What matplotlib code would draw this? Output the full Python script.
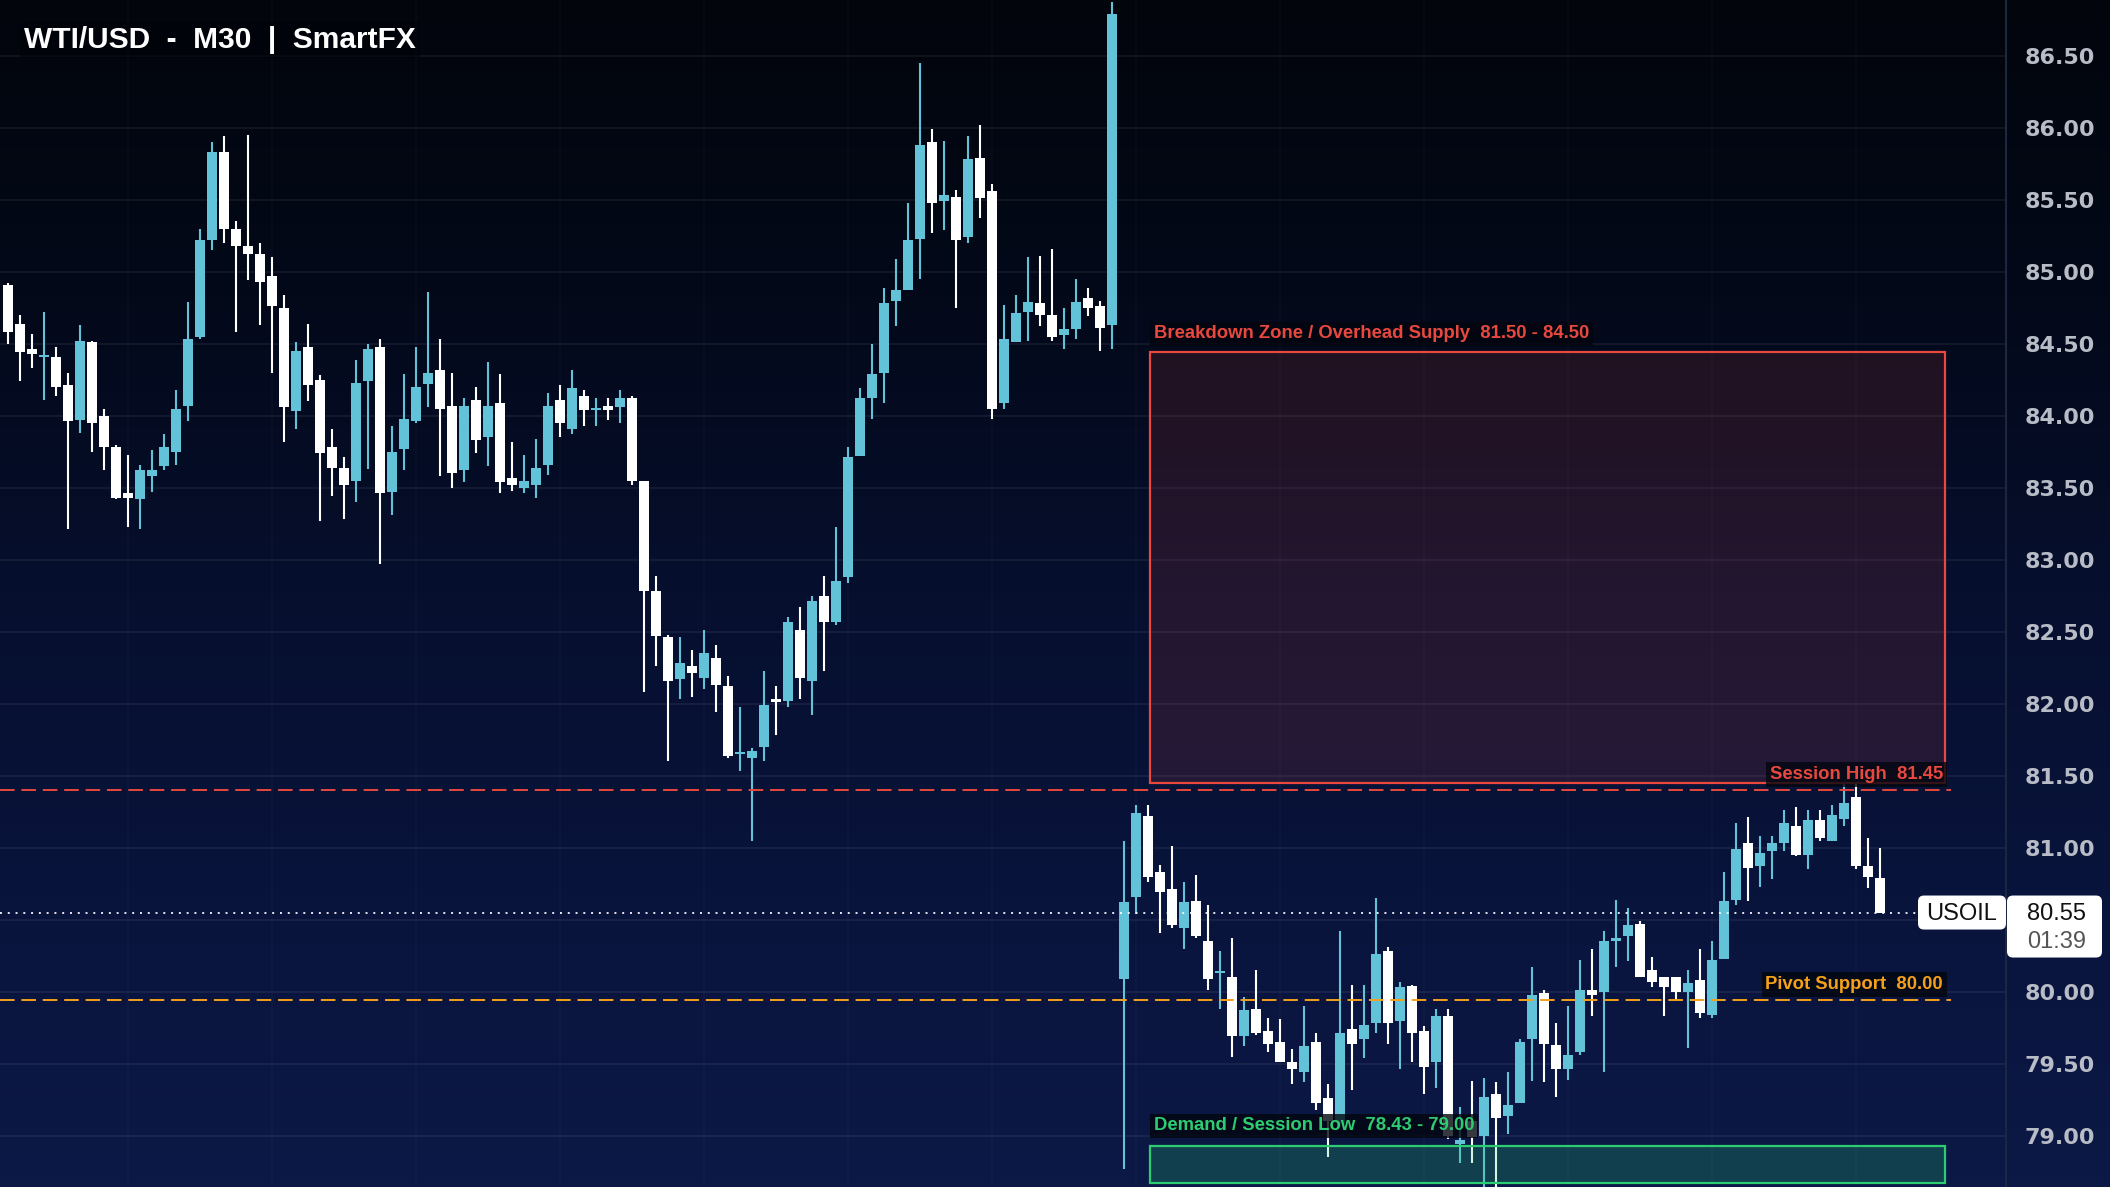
import numpy as np
import matplotlib.pyplot as plt
from matplotlib.patches import Rectangle, FancyBboxPatch
from matplotlib.colors import LinearSegmentedColormap
from matplotlib.transforms import IdentityTransform

# OHLC of the 30 minute bars, oldest first
opens = [84.91, 84.64, 84.46, 84.41, 84.41, 84.21, 83.97, 84.51, 84.00, 83.78,
         83.46, 83.42, 83.58, 83.65, 83.75, 84.07, 84.55, 85.22, 85.83, 85.30,
         85.18, 85.12, 84.97, 84.75, 84.03, 84.48, 84.25, 83.78, 83.64, 83.55,
         84.24, 84.48, 83.47, 83.77, 83.96, 84.22, 84.32, 84.07, 83.62, 84.11,
         83.85, 84.09, 83.57, 83.50, 83.52, 83.66, 84.11, 83.91, 84.14, 84.04,
         84.07, 84.06, 84.12, 83.55, 82.78, 82.46, 82.17, 82.26, 82.18, 82.32,
         82.12, 81.65, 81.62, 81.70, 82.03, 82.02, 82.51, 82.16, 82.75, 82.57,
         82.88, 83.72, 84.12, 84.30, 84.80, 84.87, 85.23, 85.90, 85.49, 85.52,
         85.24, 85.79, 85.56, 84.09, 84.51, 84.72, 84.78, 84.70, 84.56, 84.60,
         84.82, 84.76, 84.63, 80.09, 80.66, 81.22, 80.83, 80.71, 80.44, 80.63,
         80.35, 80.13, 80.10, 79.69, 79.88, 79.73, 79.65, 79.51, 79.44, 79.65,
         79.26, 79.09, 79.74, 79.67, 79.78, 80.28, 79.80, 80.04, 79.73, 79.51,
         79.83, 78.94, 79.10, 79.00, 79.29, 79.14, 79.23, 79.67, 79.99, 79.63,
         79.46, 79.58, 80.01, 80.00, 80.35, 80.39, 80.47, 80.15, 80.10, 80.10,
         80.00, 80.08, 79.84, 80.23, 80.64, 81.03, 80.87, 80.98, 81.03, 81.15,
         80.95, 81.19, 81.05, 81.20, 81.35, 80.87, 80.79]
highs = [84.92, 84.70, 84.57, 84.72, 84.48, 84.30, 84.63, 84.52, 84.05, 83.80,
         83.73, 83.66, 83.76, 83.87, 84.18, 84.79, 85.30, 85.90, 85.94, 85.35,
         85.95, 85.20, 85.10, 84.84, 84.51, 84.64, 84.28, 83.91, 83.71, 84.39,
         84.50, 84.53, 83.93, 84.29, 84.48, 84.86, 84.53, 84.30, 84.12, 84.20,
         84.37, 84.29, 83.82, 83.73, 83.84, 84.16, 84.21, 84.32, 84.18, 84.12,
         84.12, 84.18, 84.14, 83.55, 82.89, 82.48, 82.46, 82.37, 82.51, 82.41,
         82.19, 81.98, 81.69, 82.23, 82.12, 82.60, 82.67, 82.75, 82.89, 83.23,
         83.78, 84.19, 84.50, 84.89, 85.09, 85.48, 86.45, 85.99, 85.91, 85.57,
         85.94, 86.02, 85.61, 84.77, 84.84, 85.10, 85.11, 85.16, 84.75, 84.95,
         84.89, 84.80, 86.87, 81.05, 81.30, 81.30, 80.88, 81.01, 80.76, 80.81,
         80.60, 80.28, 80.37, 79.96, 80.15, 79.82, 79.81, 79.60, 79.90, 79.71,
         79.36, 80.42, 80.05, 80.05, 80.65, 80.31, 80.07, 80.05, 79.76, 79.88,
         79.88, 79.20, 79.38, 79.40, 79.37, 79.44, 79.67, 80.17, 80.01, 79.78,
         79.90, 80.22, 80.30, 80.42, 80.64, 80.58, 80.49, 80.24, 80.10, 80.10,
         80.15, 80.30, 80.35, 80.83, 81.17, 81.21, 81.08, 81.08, 81.26, 81.28,
         81.26, 81.26, 81.30, 81.44, 81.44, 81.07, 81.00]
lows = [84.50, 84.24, 84.33, 84.11, 84.14, 83.21, 83.88, 83.75, 83.62, 83.42,
        83.23, 83.21, 83.47, 83.62, 83.66, 83.96, 84.53, 85.15, 85.20, 84.58,
        84.94, 84.63, 84.30, 83.82, 83.91, 84.10, 83.27, 83.44, 83.28, 83.40,
        83.63, 82.97, 83.31, 83.62, 83.95, 84.06, 83.58, 83.50, 83.54, 83.74,
        83.65, 83.46, 83.48, 83.46, 83.43, 83.59, 83.85, 83.87, 83.93, 83.93,
        83.97, 83.95, 83.52, 82.08, 82.26, 81.60, 82.03, 82.05, 82.10, 81.94,
        81.62, 81.53, 81.05, 81.60, 81.78, 81.98, 82.03, 81.92, 82.23, 82.55,
        82.84, 83.72, 83.98, 84.09, 84.62, 84.87, 84.95, 85.27, 85.29, 84.75,
        85.20, 85.37, 83.98, 84.05, 84.51, 84.52, 84.62, 84.52, 84.46, 84.53,
        84.69, 84.45, 84.46, 78.77, 80.54, 80.76, 80.41, 80.44, 80.30, 80.37,
        80.01, 79.88, 79.55, 79.62, 79.70, 79.58, 79.51, 79.36, 79.37, 79.18,
        78.85, 79.08, 79.32, 79.54, 79.71, 79.64, 79.46, 79.51, 79.29, 79.33,
        78.98, 78.81, 78.81, 78.64, 78.64, 79.01, 79.23, 79.38, 79.37, 79.27,
        79.39, 79.56, 79.83, 79.44, 80.17, 80.21, 80.10, 80.03, 79.83, 79.95,
        79.61, 79.82, 79.82, 80.23, 80.60, 80.63, 80.73, 80.78, 80.98, 80.94,
        80.85, 81.05, 81.05, 81.15, 80.85, 80.72, 80.55]
closes = [84.58, 84.44, 84.43, 84.42, 84.20, 83.96, 84.52, 83.95, 83.78, 83.43,
          83.43, 83.62, 83.62, 83.78, 84.05, 84.53, 85.22, 85.83, 85.30, 85.18,
          85.12, 84.93, 84.76, 84.06, 84.45, 84.21, 83.74, 83.64, 83.52, 84.23,
          84.46, 83.46, 83.75, 83.98, 84.20, 84.30, 84.05, 83.60, 84.07, 83.83,
          84.07, 83.54, 83.52, 83.55, 83.64, 84.07, 83.95, 84.19, 84.04, 84.05,
          84.04, 84.12, 83.55, 82.78, 82.47, 82.16, 82.28, 82.21, 82.35, 82.13,
          81.64, 81.66, 81.67, 81.99, 82.01, 82.57, 82.18, 82.71, 82.57, 82.85,
          83.71, 84.12, 84.29, 84.78, 84.87, 85.22, 85.88, 85.48, 85.53, 85.22,
          85.78, 85.51, 84.05, 84.53, 84.71, 84.79, 84.70, 84.55, 84.60, 84.79,
          84.75, 84.61, 86.79, 80.62, 81.24, 80.80, 80.69, 80.46, 80.62, 80.39,
          80.09, 80.14, 79.69, 79.87, 79.71, 79.64, 79.51, 79.46, 79.62, 79.23,
          79.10, 79.71, 79.64, 79.77, 80.26, 79.78, 80.03, 79.71, 79.48, 79.83,
          79.00, 78.97, 78.99, 79.27, 79.12, 79.21, 79.65, 79.98, 79.64, 79.46,
          79.56, 80.01, 79.98, 80.35, 80.37, 80.46, 80.10, 80.07, 80.03, 80.00,
          80.06, 79.85, 80.22, 80.63, 80.99, 80.86, 80.96, 81.03, 81.17, 80.95,
          81.19, 81.07, 81.23, 81.31, 80.87, 80.80, 80.55]

# levels as drawn on the chart and their captions
supply_zone = (81.45, 84.44)
demand_zone = (78.67, 78.93)
zone_x = (95.2, 161.4)
session_high = 81.40
pivot = 79.94
y_ticks = np.arange(79.0, 86.51, 0.5)

W, H = 2110, 1187
UP = '#62c3d8'
DOWN = '#ffffff'
RED = '#e8483e'
ORANGE = '#f5a01a'
GREEN = '#2ecc71'
LABEL_FONT = ['Liberation Sans', 'DejaVu Sans']


def label(ax, x, y, text, color, ha):
    ax.text(x, y, text, color=color, fontsize=13.3, fontweight='bold', family=LABEL_FONT,
            ha=ha, va='bottom', zorder=9,
            bbox=dict(boxstyle='square,pad=0.2', facecolor='#03060f', alpha=0.8, edgecolor='none'))


def main():
    fig = plt.figure(figsize=(W / 100, H / 100), dpi=100)

    # background gradient, dark on top and navy at the bottom
    bg = fig.add_axes([0, 0, 1, 1], zorder=-10)
    cmap = LinearSegmentedColormap.from_list(
        'bg', ['#02050c', '#030919', '#060f2e', '#09143c', '#0c1946'])
    bg.imshow(np.linspace(0, 1, 256).reshape(-1, 1), aspect='auto', cmap=cmap,
              extent=[0, 1, 0, 1], origin='upper')
    bg.axis('off')

    ax = fig.add_axes([0, 0, 2006 / W, 1])
    ax.set_facecolor('none')

    o, h, l, c = map(np.array, (opens, highs, lows, closes))
    idx = np.arange(len(o))
    col = np.where(c >= o, UP, DOWN)

    # candles
    ax.vlines(idx, l, h, colors=col, lw=1.5, zorder=3)
    ax.bar(idx, np.maximum(np.abs(c - o), 0.012), bottom=np.minimum(o, c),
           width=0.84, color=col, lw=0, zorder=4)

    # zones
    ax.add_patch(Rectangle((zone_x[0], supply_zone[0]), zone_x[1] - zone_x[0],
                           supply_zone[1] - supply_zone[0], facecolor=RED, alpha=0.13,
                           lw=0, zorder=5))
    ax.add_patch(Rectangle((zone_x[0], supply_zone[0]), zone_x[1] - zone_x[0],
                           supply_zone[1] - supply_zone[0], facecolor='none',
                           edgecolor=RED, lw=1.6, zorder=5))
    ax.add_patch(Rectangle((zone_x[0], demand_zone[0]), zone_x[1] - zone_x[0],
                           demand_zone[1] - demand_zone[0], facecolor=GREEN, alpha=0.22,
                           lw=0, zorder=5))
    ax.add_patch(Rectangle((zone_x[0], demand_zone[0]), zone_x[1] - zone_x[0],
                           demand_zone[1] - demand_zone[0], facecolor='none',
                           edgecolor=GREEN, lw=1.6, zorder=5))

    # horizontal levels
    x0, x1 = -0.667, 166.5
    ax.hlines(session_high, x0, 161.9, colors=RED, lw=1.4, linestyles=(0, (7.5, 3.5)), zorder=6)
    ax.hlines(pivot, x0, 161.9, colors=ORANGE, lw=1.4, linestyles=(0, (7.5, 3.5)), zorder=6)
    ax.hlines(c[-1], x0, x1, colors='white', lw=1.4, linestyles=(0, (1, 3)), alpha=0.9, zorder=6)

    label(ax, zone_x[0] + 0.3, supply_zone[1] + 0.07,
          'Breakdown Zone / Overhead Supply  81.50 - 84.50', RED, 'left')
    label(ax, zone_x[0] + 0.3, demand_zone[1] + 0.08,
          'Demand / Session Low  78.43 - 79.00', GREEN, 'left')
    label(ax, 161.25, session_high + 0.05, 'Session High  81.45', RED, 'right')
    label(ax, 161.25, pivot + 0.05, 'Pivot Support  80.00', ORANGE, 'right')

    ax.set_xlim(x0, x1)
    ax.set_ylim(78.644, 86.887)

    # grid
    ax.grid(axis='y', color='white', alpha=0.07, lw=1.2)
    ax.vlines(np.arange(10, 166, 12), 78.644, 86.887, colors='white', alpha=0.025, lw=1.2, zorder=0)
    ax.set_axisbelow(True)

    # price scale on the right; the level under the last price tag is covered
    ax.yaxis.tick_right()
    ax.set_yticks(y_ticks)
    ax.set_yticklabels(['' if abs(v - c[-1]) < 0.2 else f'{v:.2f}' for v in y_ticks])
    ax.tick_params(axis='y', length=0, pad=13.5, labelsize=16, labelcolor='#b8bcc6')
    for t in ax.get_yticklabels():
        t.set_fontweight('bold')
    ax.set_xticks([])
    for s in ('top', 'bottom', 'left'):
        ax.spines[s].set_visible(False)
    ax.spines['right'].set_color('#1e2740')
    ax.spines['right'].set_linewidth(1.5)

    # title
    fig.text(24 / W, 1 - 40 / H, 'WTI/USD  -  M30  |  SmartFX', color='white', fontsize=21.5,
             fontweight='bold', family=LABEL_FONT, va='center', ha='left',
             bbox=dict(boxstyle='square,pad=0.15', facecolor='#010309', alpha=0.6, edgecolor='none'))

    # last price tags, in pixels
    yp = ax.transData.transform((0, c[-1]))[1]
    fig.add_artist(FancyBboxPatch((1918, yp - 17), 88, 34, boxstyle='round,pad=0,rounding_size=6',
                                  transform=IdentityTransform(), facecolor='white',
                                  edgecolor='none', zorder=20))
    fig.add_artist(FancyBboxPatch((2007, yp - 45), 95, 62, boxstyle='round,pad=0,rounding_size=6',
                                  transform=IdentityTransform(), facecolor='white',
                                  edgecolor='none', zorder=20))
    fig.text(1962, yp - 1, 'USOIL', transform=IdentityTransform(), color='#111111', fontsize=17,
             family=LABEL_FONT, ha='center', va='center', zorder=21)
    fig.text(2057, yp - 1, f'{c[-1]:.2f}', transform=IdentityTransform(), color='#111111',
             fontsize=17, family=LABEL_FONT, ha='center', va='center', zorder=21)
    fig.text(2057, yp - 29, '01:39', transform=IdentityTransform(), color='#555555',
             fontsize=17, family=LABEL_FONT, ha='center', va='center', zorder=21)

    fig.savefig('out.png', dpi=100)


if __name__ == '__main__':
    main()
